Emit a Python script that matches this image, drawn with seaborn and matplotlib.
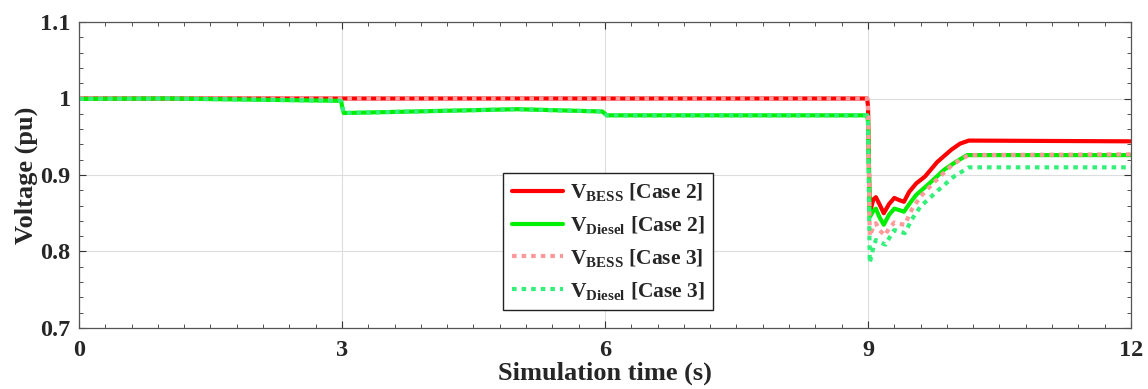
import numpy as np
import pandas as pd
import matplotlib
matplotlib.use("Agg")
import matplotlib.pyplot as plt
from matplotlib.ticker import MultipleLocator
import seaborn as sns

# ---- data ----
t_bess2 = [0.0, 8.99, 9.0, 9.02, 9.06, 9.09, 9.13, 9.18, 9.24, 9.30, 9.36, 9.41,
           9.47, 9.55, 9.65, 9.79, 9.95, 10.05, 10.15, 12.0]
v_bess2 = [1.0, 1.0, 0.99, 0.85, 0.868, 0.871, 0.862, 0.850, 0.862, 0.870, 0.867, 0.865,
           0.878, 0.889, 0.898, 0.917, 0.933, 0.941, 0.945, 0.944]

t_dies2 = [0.0, 1.0, 2.99, 3.0, 3.02, 5.0, 5.97, 6.0, 6.02, 8.99, 9.0, 9.02, 9.06, 9.09,
           9.13, 9.18, 9.24, 9.30, 9.36, 9.41, 9.47, 9.55, 9.70, 9.87, 10.0, 10.13, 12.0]
v_dies2 = [0.9995, 1.0, 0.997, 0.99, 0.981, 0.986, 0.983, 0.980, 0.978, 0.978, 0.97, 0.845,
           0.853, 0.856, 0.845, 0.835, 0.848, 0.856, 0.854, 0.852, 0.862, 0.874, 0.889,
           0.907, 0.917, 0.926, 0.926]

t_bess3 = [0.0, 8.99, 9.0, 9.02, 9.06, 9.09, 9.13, 9.19, 9.24, 9.30, 9.36, 9.42,
           9.50, 9.60, 9.75, 9.94, 10.05, 10.15, 12.0]
v_bess3 = [1.0, 1.0, 0.99, 0.82, 0.832, 0.837, 0.828, 0.821, 0.830, 0.838, 0.836, 0.835,
           0.855, 0.872, 0.890, 0.911, 0.920, 0.926, 0.927]

t_dies3 = [0.0, 1.0, 2.99, 3.0, 3.02, 5.0, 5.97, 6.0, 6.02, 8.99, 9.0, 9.02, 9.06, 9.09,
           9.14, 9.20, 9.25, 9.30, 9.36, 9.42, 9.50, 9.60, 9.80, 9.98, 10.08, 10.15, 12.0]
v_dies3 = [0.9995, 1.0, 0.997, 0.99, 0.981, 0.986, 0.983, 0.980, 0.978, 0.978, 0.97, 0.785,
           0.805, 0.815, 0.812, 0.809, 0.819, 0.828, 0.826, 0.824, 0.842, 0.859, 0.880,
           0.898, 0.905, 0.910, 0.910]

labels = [r"$\mathbf{V}_{\mathbf{BESS}}$ [Case 2]",
          r"$\mathbf{V}_{\mathbf{Diesel}}$ [Case 2]",
          r"$\mathbf{V}_{\mathbf{BESS}}$ [Case 3]",
          r"$\mathbf{V}_{\mathbf{Diesel}}$ [Case 3]"]

x_ticks = [0, 3, 6, 9, 12]
y_ticks = [0.7, 0.8, 0.9, 1.0, 1.1]
y_ticklabels = ["0.7", "0.8", "0.9", "1", "1.1"]

# ---- style ----
sns.set_style("ticks")
plt.rcParams["font.family"] = ["Liberation Serif", "DejaVu Serif"]
plt.rcParams["font.weight"] = "bold"
plt.rcParams["mathtext.fontset"] = "custom"
plt.rcParams["mathtext.rm"] = "Liberation Serif:bold"
plt.rcParams["mathtext.bf"] = "Liberation Serif:bold"
plt.rcParams["mathtext.it"] = "Liberation Serif:bold"

fig = plt.figure(figsize=(11.48, 3.89), dpi=100)
ax = fig.add_axes([79 / 1148, 1 - 328 / 389, (1131 - 79) / 1148, (328 - 22) / 389])

series = [
    (t_bess2, v_bess2, "#ff0000", "-"),
    (t_dies2, v_dies2, "#00ee00", "-"),
    (t_bess3, v_bess3, "#ff9a9a", ":"),
    (t_dies3, v_dies3, "#33f07a", ":"),
]
handles = []
for (t, v, c, ls), lab in zip(series, labels):
    df = pd.DataFrame({"t": t, "v": v})
    sns.lineplot(data=df, x="t", y="v", ax=ax, color=c, linewidth=3.0,
                 estimator=None, sort=False, label=lab)
    line = ax.get_lines()[-1]
    if ls == ":":
        line.set_dashes((1.1, 1.2))
    handles.append(line)

ax.set_xlim(0, 12)
ax.set_ylim(0.7, 1.1)
ax.set_xticks(x_ticks)
ax.set_xticklabels([str(x) for x in x_ticks])
ax.set_yticks(y_ticks)
ax.set_yticklabels(y_ticklabels)
ax.xaxis.set_minor_locator(MultipleLocator(0.3))
ax.yaxis.set_minor_locator(MultipleLocator(0.02))
ax.tick_params(which="both", direction="in", top=True, right=True, color="#333333")
ax.tick_params(which="major", length=5, width=0.8, labelsize=17.5, pad=6)
ax.tick_params(axis="x", which="major", pad=9)
ax.tick_params(which="minor", length=3, width=0.6)
ax.grid(True, which="major", color="#dddddd", linewidth=0.8)
ax.set_axisbelow(True)
for s in ax.spines.values():
    s.set_color("#555555")
    s.set_linewidth(0.9)

ax.set_xlabel("Simulation time (s)", fontsize=19, fontweight="bold", labelpad=0)
ax.set_ylabel("Voltage (pu)", fontsize=19, fontweight="bold", labelpad=2)

leg = ax.legend(handles=handles, labels=labels, loc="upper left",
                bbox_to_anchor=(0.403, 0.507), borderaxespad=0, fontsize=15.5,
                fancybox=False, framealpha=1, edgecolor="#222222",
                handlelength=2.4, handletextpad=0.3, labelspacing=0.5,
                borderpad=0.4)
leg.get_frame().set_linewidth(1.0)

fig.savefig("out.png", dpi=100)
